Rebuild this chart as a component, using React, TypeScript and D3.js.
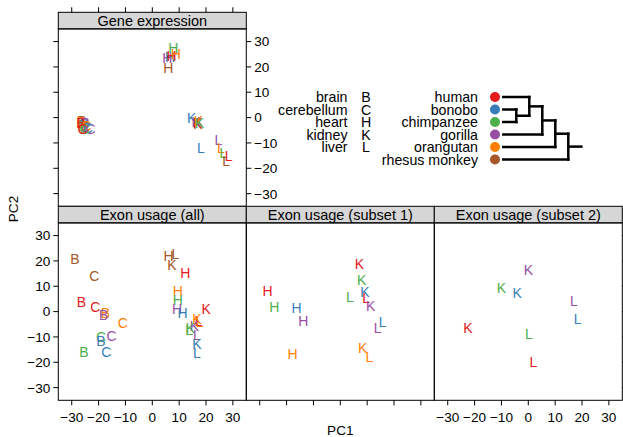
import React from 'react';
import * as d3 from 'd3';

const species = ['human', 'bonobo', 'chimpanzee', 'gorilla', 'orangutan', 'rhesus monkey'];
const speciesColors = ['#E41A1C', '#377EB8', '#4DAF4A', '#984EA3', '#FF7F00', '#A65628'];
const tissues = ['brain', 'cerebellum', 'heart', 'kidney', 'liver'];
const tissueLetters = ['B', 'C', 'H', 'K', 'L'];
const axisTicks = [-30, -20, -10, 0, 10, 20, 30];

// [speciesIndex, tissueIndex, PC1, PC2]
const geneExpression: [number, number, number, number][] = [
  [5, 0, -26.2, -1.2], [4, 0, -26.6, -1.6], [1, 0, -25.4, -2.4], [3, 0, -25, -2], [2, 0, -26, -3.4], [0, 0, -26.6, -2.2],
  [5, 1, -25, -3.6], [4, 1, -24.6, -3.4], [3, 1, -23, -4.6], [1, 1, -24, -4], [2, 1, -25, -4.6], [0, 1, -26, -4.4],
  [5, 2, 6, 19.6], [3, 2, 5.6, 23.5], [1, 2, 6.6, 23.8], [0, 2, 7.2, 24.2], [4, 2, 8.8, 25.1], [2, 2, 7.8, 27.5],
  [5, 3, 17, -2.5], [0, 3, 16.8, -2], [1, 3, 14.7, -0.2], [3, 3, 16.3, -1.8], [4, 3, 17.2, -1.5], [2, 3, 17.5, -2.2],
  [1, 4, 18.1, -11.8], [3, 4, 24.6, -8.7], [4, 4, 25.5, -12], [2, 4, 26.5, -14], [0, 4, 28.4, -15.3], [5, 4, 27.5, -17.3],
];

const exonAll: [number, number, number, number][] = [
  [5, 0, -28.8, 20.8], [5, 1, -21.6, 13.9], [0, 0, -26.4, 3.7], [0, 1, -21.2, 2],
  [4, 0, -17.5, -0.4], [3, 0, -18.1, -1.3], [4, 1, -11, -4.3], [3, 1, -15.2, -9.6],
  [2, 1, -19.1, -10.1], [1, 0, -19.1, -11.5], [1, 1, -17.1, -15.8], [2, 0, -25.5, -15.8],
  [5, 2, 6.1, 22], [5, 4, 8.6, 22.7], [5, 3, 7.3, 18.5], [0, 2, 12.3, 15.2],
  [4, 2, 9.5, 8.3], [2, 2, 9.5, 4.4], [3, 2, 9.2, 1.1], [1, 2, 11.3, -0.6],
  [0, 3, 20.1, 0.9], [0, 4, 17.2, -3.8], [4, 4, 17.6, -4], [4, 3, 16.6, -2.9],
  [3, 3, 15.7, -5.6], [2, 3, 14.1, -6.3], [2, 4, 13.7, -7.2], [3, 4, 16.6, -9.2],
  [1, 3, 16.6, -12.8], [1, 4, 16.6, -16.4],
];

const exonSubset1: [number, number, number, number][] = [
  [0, 2, -27.1, 8.2], [2, 2, -24.6, 2], [1, 2, -16.3, 1.3], [3, 2, -13.8, -3.6], [4, 2, -17.8, -16.8],
  [0, 3, 7.1, 18.9], [2, 3, 8, 12.3], [2, 4, 3.6, 5.7], [1, 3, 9.2, 7.7], [0, 4, 9.6, 5.3],
  [3, 3, 11.3, 2.3], [1, 4, 15.8, -4], [3, 4, 13.9, -6.3], [4, 3, 8.3, -14.5], [4, 4, 10.8, -18],
];

const exonSubset2: [number, number, number, number][] = [
  [3, 3, 0, 16.5], [2, 3, -10, 9.2], [1, 3, -4.1, 7.3], [0, 3, -22.5, -6.6],
  [3, 4, 17, 4.2], [1, 4, 18.4, -2.9], [2, 4, 0.2, -8.9], [0, 4, 1.9, -19.8],
];

// dendrogram: leaves are species indices; h = merge height
type TreeNode = { leaf?: number; h?: number; children?: TreeNode[] };
const speciesTree: TreeNode = {
  h: 5,
  children: [
    {
      h: 4,
      children: [
        {
          h: 3,
          children: [
            { h: 2, children: [{ leaf: 0 }, { h: 1, children: [{ leaf: 1 }, { leaf: 2 }] }] },
            { leaf: 3 },
          ],
        },
        { leaf: 4 },
      ],
    },
    { leaf: 5 },
  ],
};
const treeRootHeight = 6;

const FONT = 'Liberation Sans, Arial, Helvetica, sans-serif';
const W = 623;
const H = 437;
const PW = 188;
const COLX = [58.3, 246.3, 434.3];
const STRIP = 16.6;
const PLOTH = 177.4;
const TOP_STRIP = 12.3;
const BOT_STRIP = TOP_STRIP + STRIP + PLOTH;
const TICK = 5;
const TICK_FS = 13.6;
const LETTER_FS = 14;
const STRIP_FS = 14.5;
const LEGEND_FS = 14.2;
const fmt = (v: number) => (v < 0 ? '\u2212' + Math.abs(v) : String(v));

type PanelProps = {
  x0: number;
  stripTop: number;
  title: string;
  data: [number, number, number, number][];
  axes: { left?: boolean; leftLabels?: boolean; right?: boolean; rightLabels?: boolean; top?: boolean; bottom?: boolean; bottomLabels?: boolean };
};

function Panel({ x0, stripTop, title, data, axes }: PanelProps) {
  const plotTop = stripTop + STRIP;
  const plotBottom = plotTop + PLOTH;
  const x = d3.scaleLinear().domain([-35, 35]).range([x0, x0 + PW]);
  const y = d3.scaleLinear().domain([-35, 35]).range([plotBottom, plotTop]);
  return (
    <g>
      <rect x={x0} y={stripTop} width={PW} height={STRIP} fill="#d6d6d6" stroke="#000" strokeWidth={1} />
      <text x={x0 + PW / 2} y={stripTop + STRIP / 2} dy="0.36em" textAnchor="middle" fontSize={STRIP_FS} fontFamily={FONT}>
        {title}
      </text>
      <rect x={x0} y={plotTop} width={PW} height={PLOTH} fill="none" stroke="#000" strokeWidth={1} />
      {data.map(([s, t, px, py], i) => (
        <text key={i} x={x(px)} y={y(py)} dy="0.36em" textAnchor="middle" fontSize={LETTER_FS} fontFamily={FONT} fill={speciesColors[s]}>
          {tissueLetters[t]}
        </text>
      ))}
      {axes.left &&
        axisTicks.map((v) => (
          <g key={'l' + v}>
            <line x1={x0 - TICK} x2={x0} y1={y(v)} y2={y(v)} stroke="#000" />
            {axes.leftLabels && (
              <text x={x0 - TICK - 3} y={y(v)} dy="0.36em" textAnchor="end" fontSize={TICK_FS} fontFamily={FONT}>
                {fmt(v)}
              </text>
            )}
          </g>
        ))}
      {axes.right &&
        axisTicks.map((v) => (
          <g key={'r' + v}>
            <line x1={x0 + PW} x2={x0 + PW + TICK} y1={y(v)} y2={y(v)} stroke="#000" />
            {axes.rightLabels && (
              <text x={x0 + PW + TICK + 3} y={y(v)} dy="0.36em" textAnchor="start" fontSize={TICK_FS} fontFamily={FONT}>
                {fmt(v)}
              </text>
            )}
          </g>
        ))}
      {axes.top &&
        axisTicks.map((v) => (
          <line key={'t' + v} x1={x(v)} x2={x(v)} y1={stripTop - TICK} y2={stripTop} stroke="#000" />
        ))}
      {axes.bottom &&
        axisTicks.map((v) => (
          <g key={'b' + v}>
            <line x1={x(v)} x2={x(v)} y1={plotBottom} y2={plotBottom + TICK} stroke="#000" />
            {axes.bottomLabels && (
              <text x={x(v)} y={plotBottom + 16.5} dy="0.36em" textAnchor="middle" fontSize={TICK_FS} fontFamily={FONT}>
                {fmt(v)}
              </text>
            )}
          </g>
        ))}
    </g>
  );
}

function Legend() {
  const row = d3.scaleLinear().domain([0, 1]).range([97, 109.5]);
  const tx = d3.scaleLinear().domain([0, treeRootHeight]).range([503.3, 581.3]);
  const segs: { x1: number; y1: number; x2: number; y2: number }[] = [];
  const walk = (n: TreeNode): { y: number; h: number } => {
    if (n.leaf !== undefined) return { y: row(n.leaf), h: 0 };
    const kids = (n.children || []).map(walk);
    const hh = n.h || 0;
    kids.forEach((k) => segs.push({ x1: tx(k.h), y1: k.y, x2: tx(hh), y2: k.y }));
    const ys = kids.map((k) => k.y);
    segs.push({ x1: tx(hh), y1: d3.min(ys)!, x2: tx(hh), y2: d3.max(ys)! });
    return { y: d3.mean(ys)!, h: hh };
  };
  const root = walk(speciesTree);
  segs.push({ x1: tx(root.h), y1: root.y, x2: tx(treeRootHeight), y2: root.y });
  return (
    <g fontFamily={FONT} fontSize={LEGEND_FS}>
      {tissues.map((t, i) => (
        <g key={t}>
          <text x={347.5} y={row(i)} dy="0.36em" textAnchor="end">{t}</text>
          <text x={366} y={row(i)} dy="0.36em" textAnchor="middle">{tissueLetters[i]}</text>
        </g>
      ))}
      {species.map((s, i) => (
        <g key={s}>
          <text x={478} y={row(i)} dy="0.36em" textAnchor="end">{s}</text>
          <circle cx={495} cy={row(i)} r={5} fill={speciesColors[i]} />
        </g>
      ))}
      {segs.map((s, i) => (
        <line key={i} x1={s.x1} y1={s.y1} x2={s.x2} y2={s.y2} stroke="#000" strokeWidth={2.5} strokeLinecap="square" />
      ))}
    </g>
  );
}

export default function App() {
  return (
    <svg width={W} height={H} style={{ position: 'absolute', left: 0, top: 0, background: '#fff' }}>
      <rect x={0} y={0} width={W} height={H} fill="#fff" />
      <Panel
        x0={COLX[0]}
        stripTop={TOP_STRIP}
        title="Gene expression"
        data={geneExpression}
        axes={{ left: true, right: true, rightLabels: true, top: true }}
      />
      <Panel
        x0={COLX[0]}
        stripTop={BOT_STRIP}
        title="Exon usage (all)"
        data={exonAll}
        axes={{ left: true, leftLabels: true, bottom: true, bottomLabels: true }}
      />
      <Panel x0={COLX[1]} stripTop={BOT_STRIP} title="Exon usage (subset 1)" data={exonSubset1} axes={{ bottom: true }} />
      <Panel
        x0={COLX[2]}
        stripTop={BOT_STRIP}
        title="Exon usage (subset 2)"
        data={exonSubset2}
        axes={{ right: true, bottom: true, bottomLabels: true }}
      />
      <Legend />
      <text x={COLX[1] + PW / 2} y={430} dy="0.36em" textAnchor="middle" fontSize={TICK_FS} fontFamily={FONT}>
        PC1
      </text>
      <text
        transform={`translate(13,${209}) rotate(-90)`}
        dy="0.36em"
        textAnchor="middle"
        fontSize={TICK_FS}
        fontFamily={FONT}
      >
        PC2
      </text>
    </svg>
  );
}
